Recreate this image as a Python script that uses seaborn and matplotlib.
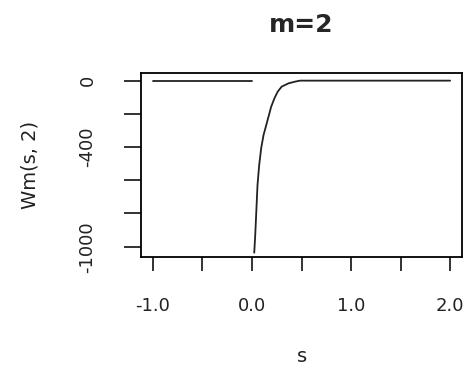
import numpy as np
import pandas as pd
import matplotlib
matplotlib.use("Agg")
import matplotlib.pyplot as plt
import seaborn as sns
from matplotlib.ticker import FixedLocator, FixedFormatter

# Data
s_left = [-1.0, 0.0]
wm_left = [0.0, 0.0]

s_curve = [0.023, 0.033, 0.056, 0.073, 0.093, 0.117, 0.14, 0.167, 0.194,
           0.227, 0.26, 0.30, 0.37, 0.435, 0.485, 1.0, 1.5, 2.0]
wm_curve = [-1036, -930, -628, -508, -407, -327, -277, -217, -157,
            -106, -66, -36, -16, -6, 0, 0, 0, 0]

x_ticks = [-1.0, -0.5, 0.0, 0.5, 1.0, 1.5, 2.0]
x_labels = ["-1.0", "", "0.0", "", "1.0", "", "2.0"]
y_ticks = [0, -200, -400, -600, -800, -1000]
y_labels = ["0", "", "-400", "", "", "-1000"]

title = "m=2"
xlabel = "s"
ylabel = "Wm(s, 2)"

sns.set_style("white")
plt.rcParams['font.family'] = ['DejaVu Sans']

fig = plt.figure(figsize=(4.70, 3.68), dpi=100)
ax = fig.add_axes([141/470, 1 - 257/368, 321/470, 184/368])

df_left = pd.DataFrame({"s": s_left, "wm": wm_left})
df_curve = pd.DataFrame({"s": s_curve, "wm": wm_curve})
sns.lineplot(data=df_left, x="s", y="wm", ax=ax, color="#222222", linewidth=1.3)
sns.lineplot(data=df_curve, x="s", y="wm", ax=ax, color="#222222", linewidth=1.3, sort=False)

ax.set_xlim(-1.12, 2.12)
ax.set_ylim(-1062, 46)

ax.xaxis.set_major_locator(FixedLocator(x_ticks))
ax.xaxis.set_major_formatter(FixedFormatter(x_labels))
ax.yaxis.set_major_locator(FixedLocator(y_ticks))
ax.yaxis.set_major_formatter(FixedFormatter(y_labels))

for sp in ax.spines.values():
    sp.set_visible(True)
    sp.set_color("black")
    sp.set_linewidth(1.3)

ax.tick_params(axis='x', direction='out', length=10, width=1.3, color='#222222',
               labelsize=13, pad=19, bottom=True, labelcolor='#222222')
ax.tick_params(axis='y', direction='out', length=12, width=1.3, color='#222222',
               labelsize=13, pad=20, left=True, labelcolor='#222222')
for lab in ax.get_yticklabels():
    lab.set_rotation(90)
    lab.set_va('center')
    lab.set_ha('right')

ax.set_title(title, fontsize=18, fontweight='bold', y=1.223, pad=0)
ax.set_xlabel(xlabel, fontsize=14, color='#222222')
ax.xaxis.set_label_coords(0.5, -0.54)
ax.xaxis.label.set_va('center')
ax.set_ylabel(ylabel, fontsize=14, color='#222222')
ax.yaxis.set_label_coords(-0.345, 0.5)
ax.yaxis.label.set_va('center')

fig.savefig("out.png", dpi=100, facecolor="white")
